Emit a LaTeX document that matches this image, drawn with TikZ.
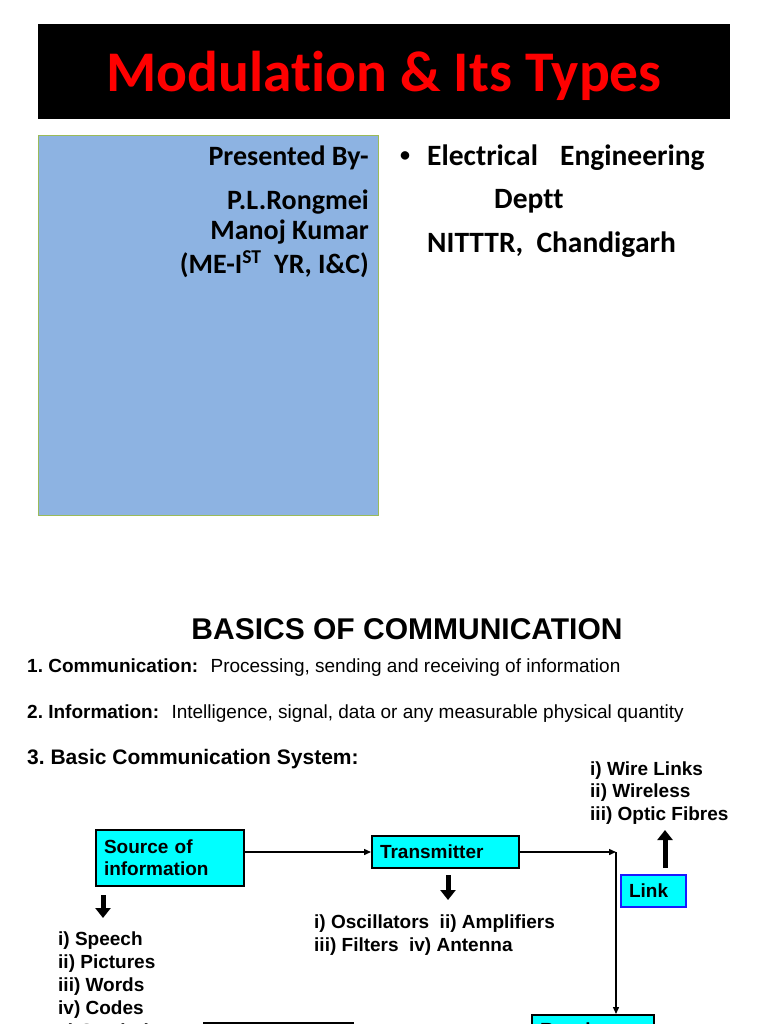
\documentclass[tikz,border=0pt]{standalone}
\usepackage{fontspec}
\setmainfont{Liberation Sans}
\newfontfamily\calibri[Ligatures=NoCommon]{Carlito}
\usepackage{xcolor}
\definecolor{cTitle}{HTML}{FF0000}
\definecolor{cPanel}{HTML}{8DB3E2}
\definecolor{cPanelEdge}{HTML}{9BBB59}
\definecolor{cBlock}{HTML}{00FFFF}
\definecolor{cLink}{HTML}{1A1AFF}
\usetikzlibrary{positioning,arrows.meta,calc}
\tikzset{
  txt-slide/.style={inner sep=0pt,font=\calibri\bfseries\fontsize{28}{34}\selectfont},
  txt-dept/.style={inner sep=0pt,anchor=base west,font=\calibri\bfseries\fontsize{29.5}{34}\selectfont},
  txt-body/.style={inner sep=0pt,anchor=base west,font=\fontsize{19}{23}\selectfont},
  txt-bold/.style={inner sep=0pt,anchor=base west,font=\bfseries\fontsize{19}{23}\selectfont},
  node-block/.style={draw=black,line width=2pt,fill=cBlock,anchor=north west,
    inner xsep=8pt,inner ysep=0pt,align=left,font=\bfseries\fontsize{19}{22}\selectfont},
  arrow/.style={-{Triangle[length=7pt,width=6pt]},line width=1.4pt},
  arrow-fat/.style={-{Triangle[length=10pt,width=15pt]},line width=5pt},
}
\frenchspacing

\begin{document}
\begin{tikzpicture}[x=1pt,y=-1pt]
  \useasboundingbox (0,0) rectangle (768,1024);
  \clip (0,0) rectangle (768,1024);
  % title slide
  \node[fill=black,minimum width=692pt,minimum height=95pt,anchor=north west] (banner) at (38,24) {};
  \node[anchor=base,text=cTitle,font=\calibri\bfseries\fontsize{57.5}{60}\selectfont] (title) at (384,92) {Modulation \& Its Types};
  \node[fill=cPanel,draw=cPanelEdge,line width=1pt,minimum width=340pt,minimum height=380pt,anchor=north west] (panel) at (38,135) {};
  \node[txt-slide,anchor=base east] (by) at (369,166) {Presented By-};
  \node[txt-slide,anchor=base east] (name1) at (369,210) {P.L.Rongmei};
  \node[txt-slide,anchor=base east] (name2) at (369,240) {Manoj Kumar};
  \node[txt-slide,anchor=base east] (course) at (369,273) {(ME-I\textsuperscript{ST}\hspace{.45em}YR, I\&C)};
  \node[txt-dept,font=\calibri\bfseries\fontsize{20}{24}\selectfont] (dot) at (400,162) {•};
  \node[txt-dept] (dept) at (427,166) {Electrical\hspace{.75em}Engineering};
  \node[txt-dept] (deptt) at (494,209) {Deptt};
  \node[txt-dept] (inst) at (427,252) {NITTTR,\hspace{.45em}Chandigarh};
  % basics
  \node[anchor=base,inner sep=0pt,font=\bfseries\fontsize{30}{34}\selectfont] (basics) at (407,639) {BASICS OF COMMUNICATION};
  \node[txt-bold] (def1) at (27,672) {1. Communication:};
  \node[txt-body,right=12pt of def1.base east,anchor=base west] (def1-text) {Processing, sending and receiving of information};
  \node[txt-bold] (def2) at (27,718) {2. Information:};
  \node[txt-body,right=12pt of def2.base east,anchor=base west] (def2-text) {Intelligence, signal, data or any measurable physical quantity};
  \node[txt-bold,font=\bfseries\fontsize{21}{25}\selectfont] (def3) at (27,764) {3. Basic Communication System:};
  % blocks
  \node[node-block,minimum width=148pt,minimum height=56pt,text width=132pt] (src) at (95,829) {Source of\\information};
  \node[node-block,minimum width=147pt,minimum height=32pt,text width=131pt] (tx) at (371,835) {Transmitter};
  \node[node-block,draw=cLink,minimum width=65pt,minimum height=32pt,text width=49pt] (link) at (620,874) {Link};
  \node[node-block,minimum width=122pt,minimum height=30pt,text width=106pt] (rx) at (531,1014) {Receiver};
  \node[node-block,minimum width=149pt,minimum height=30pt,text width=133pt] (dest) at (203,1022) {};
  \coordinate (turn) at ($(tx.east)+(96,0)$);
  \draw[arrow] (src.east |- tx.west) -- (tx.west);
  \draw[arrow] (tx.east) -- (turn);
  \draw[arrow] (turn) -- (turn |- rx.north);
  % lists
  \foreach \txt [count=\i from 0] in {i) Speech,ii) Pictures,iii) Words,iv) Codes,v) Symbols}
    \node[txt-bold] (src-item-\i) at (58,945+23*\i) {\txt};
  \node[txt-bold] (tx-item-0) at (314,928) {i) Oscillators\hspace{.55em}ii) Amplifiers};
  \node[txt-bold] (tx-item-1) at (314,951) {iii) Filters\hspace{.55em}iv) Antenna};
  \foreach \txt [count=\i from 0] in {i) Wire Links,ii) Wireless,iii) Optic Fibres}
    \node[txt-bold] (link-item-\i) at (590,775+22.5*\i) {\txt};
  \coordinate (src-info) at (103,918);
  \coordinate (tx-info) at (448,900);
  \coordinate (link-info) at (665,830);
  \draw[arrow-fat,shorten <=8pt] (src.south -| src-info) -- (src-info);
  \draw[arrow-fat,shorten <=6pt] (tx.south -| tx-info) -- (tx-info);
  \draw[arrow-fat,shorten <=6pt] (link.north -| link-info) -- (link-info);
\end{tikzpicture}
\end{document}
